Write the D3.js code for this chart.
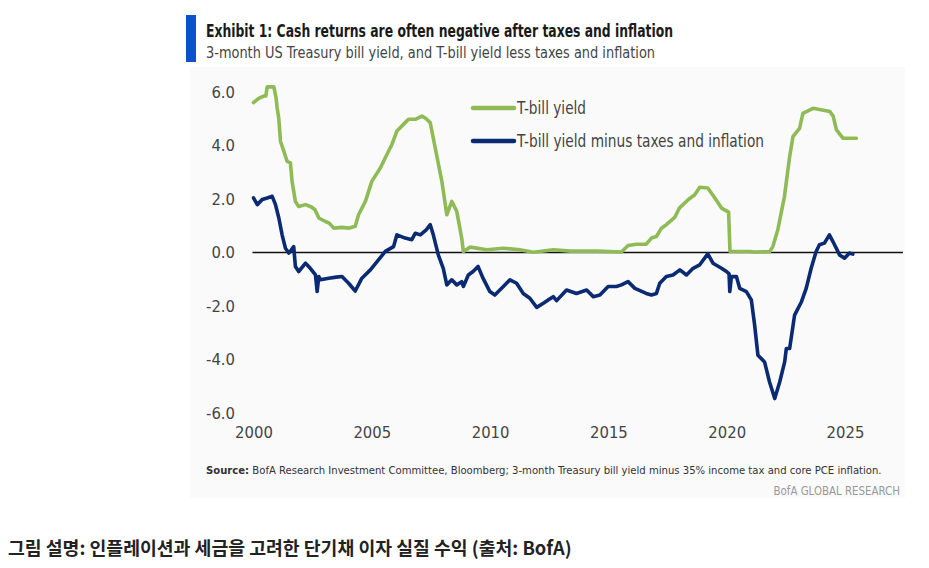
<!DOCTYPE html>
<html>
  <head>
    <meta charset="utf-8">
    <title>Cash returns after taxes and inflation</title>
    <script src="https://d3js.org/d3.v7.min.js"></script>
    <style>
    body { margin:0; background:#fff; }
    svg { display:block; }
    text { font-family: "DejaVu Sans Condensed", "Liberation Sans", sans-serif; }
    .tick text { fill:#444; font-size:16.5px; }
    .caption { font-family: "Noto Sans CJK KR", sans-serif; font-weight:700; }
    </style>
  </head>
  <body>
    <script>

// 3-month T-bill yield (%)
var tbillDates = [2000.0, 2000.22, 2000.43, 2000.52, 2000.58, 2000.86, 2000.95, 2001.0, 2001.07, 2001.14,
  2001.28, 2001.42, 2001.56, 2001.63, 2001.77, 2001.91, 2002.2, 2002.45, 2002.6, 2002.76,
  2003.04, 2003.2, 2003.39, 2003.74, 2004.02, 2004.3, 2004.44, 2004.73, 2005.0, 2005.36,
  2005.57, 2005.85, 2006.06, 2006.34, 2006.55, 2006.84, 2007.12, 2007.3, 2007.47, 2007.68,
  2007.96, 2008.17, 2008.38, 2008.59, 2008.8, 2008.87, 2009.16, 2009.86, 2010.56, 2011.26,
  2011.83, 2012.67, 2013.4, 2014.5, 2015.55, 2015.83, 2016.19, 2016.6, 2016.82, 2017.03,
  2017.24, 2017.45, 2017.8, 2018.0, 2018.38, 2018.65, 2018.86, 2019.2, 2019.5, 2019.78,
  2020.08, 2020.14, 2020.97, 2021.18, 2021.81, 2021.95, 2022.16, 2022.44, 2022.66, 2022.8,
  2023.08, 2023.22, 2023.65, 2024.36, 2024.5, 2024.64, 2024.92, 2025.48];
var tbillValues = [5.6, 5.76, 5.85, 5.85, 6.19, 6.19, 5.8, 5.4, 5.0, 4.16,
  3.79, 3.41, 3.35, 2.66, 1.91, 1.72, 1.79, 1.7, 1.6, 1.29,
  1.16, 1.1, 0.91, 0.94, 0.91, 0.98, 1.41, 1.91, 2.66, 3.16,
  3.54, 4.04, 4.54, 4.79, 4.98, 4.98, 5.1, 5.0, 4.85, 3.91,
  2.66, 1.41, 1.91, 1.54, 0.54, 0.04, 0.2, 0.1, 0.16, 0.1,
  0.01, 0.1, 0.05, 0.05, 0.02, 0.26, 0.31, 0.31, 0.54, 0.6,
  0.91, 1.04, 1.31, 1.66, 1.98, 2.16, 2.44, 2.41, 2.04, 1.66,
  1.51, 0.04, 0.04, 0.02, 0.03, 0.22, 0.85, 2.09, 3.58, 4.33,
  4.64, 5.2, 5.39, 5.27, 5.1, 4.58, 4.27, 4.27];

// T-bill yield minus 35% tax and core PCE inflation (%)
var realDates = [2000.0, 2000.16, 2000.37, 2000.58, 2000.79, 2000.93, 2001.07, 2001.21, 2001.35, 2001.49,
  2001.6, 2001.7, 2001.77, 2001.91, 2002.2, 2002.4, 2002.62, 2002.69, 2002.76, 2002.83,
  2003.18, 2003.5, 2003.74, 2004.02, 2004.3, 2004.58, 2004.94, 2005.29, 2005.57, 2005.92,
  2006.06, 2006.41, 2006.69, 2006.84, 2007.05, 2007.3, 2007.47, 2007.6, 2007.81, 2008.02,
  2008.17, 2008.38, 2008.59, 2008.8, 2008.87, 2009.08, 2009.28, 2009.49, 2009.7, 2009.99,
  2010.2, 2010.56, 2010.84, 2011.12, 2011.4, 2011.68, 2011.97, 2012.25, 2012.5, 2012.67,
  2012.81, 2013.23, 2013.65, 2014.08, 2014.36, 2014.64, 2014.99, 2015.34, 2015.55, 2015.83,
  2016.12, 2016.6, 2016.82, 2017.03, 2017.17, 2017.45, 2017.73, 2018.02, 2018.3, 2018.58,
  2018.86, 2019.2, 2019.42, 2019.78, 2019.99, 2020.1, 2020.13, 2020.2, 2020.41, 2020.55,
  2020.83, 2021.04, 2021.18, 2021.32, 2021.6, 2021.81, 2022.03, 2022.24, 2022.45, 2022.52,
  2022.66, 2022.87, 2023.16, 2023.36, 2023.57, 2023.78, 2023.92, 2024.13, 2024.34, 2024.49,
  2024.77, 2024.98, 2025.19, 2025.33];
var realValues = [2.04, 1.79, 1.98, 2.04, 2.1, 1.79, 1.29, 0.66, 0.16, -0.02,
  0.1, 0.22, -0.52, -0.71, -0.4, -0.59, -0.84, -1.46, -0.9, -1.02,
  -0.96, -0.92, -0.9, -1.15, -1.44, -0.96, -0.65, -0.27, 0.04, 0.22,
  0.66, 0.54, 0.48, 0.72, 0.66, 0.85, 1.04, 0.66, -0.09, -0.59,
  -1.21, -1.02, -1.21, -1.09, -1.27, -0.84, -0.71, -0.52, -0.96, -1.46,
  -1.59, -1.27, -1.02, -1.15, -1.53, -1.71, -2.05, -1.9, -1.75, -1.65,
  -1.8, -1.4, -1.53, -1.4, -1.65, -1.59, -1.27, -1.27, -1.21, -1.09,
  -1.34, -1.53, -1.59, -1.53, -1.15, -0.9, -0.84, -0.65, -0.84, -0.59,
  -0.46, -0.05, -0.4, -0.59, -0.71, -0.8, -1.46, -0.9, -0.9, -1.34,
  -1.46, -1.77, -2.71, -3.84, -4.09, -4.84, -5.46, -4.84, -4.09, -3.59,
  -3.59, -2.34, -1.84, -1.34, -0.59, 0.04, 0.29, 0.35, 0.66, 0.41,
  -0.09, -0.21, -0.02, -0.06];

var yTicks = [-6, -4, -2, 0, 2, 4, 6];
var xTicks = [2000, 2005, 2010, 2015, 2020, 2025];
var seriesNames = ["T-bill yield", "T-bill yield minus taxes and inflation"];
var seriesColors = ["#8fbb57", "#0b2a74"];

var width = 929, height = 568;

var svg = d3.select("body").append("svg")
    .attr("width", width)
    .attr("height", height);

// light panel behind the exhibit
svg.append("rect")
    .attr("x", 190).attr("y", 67)
    .attr("width", 715).attr("height", 431)
    .attr("fill", "#fafafa");

// title block
svg.append("rect")
    .attr("x", 186).attr("y", 15)
    .attr("width", 10).attr("height", 47)
    .attr("fill", "#0a52c9");

// reference font is condensed; squeeze to its measured widths
function fitText(sel, w) {
  return sel.attr("textLength", w).attr("lengthAdjust", "spacingAndGlyphs");
}

fitText(svg.append("text")
    .attr("x", 206).attr("y", 37)
    .style("font-size", "17px").style("font-weight", "bold")
    .attr("fill", "#1a1a1a")
    .text("Exhibit 1: Cash returns are often negative after taxes and inflation"), 467);

fitText(svg.append("text")
    .attr("x", 206).attr("y", 58)
    .style("font-size", "16px")
    .attr("fill", "#444")
    .text("3-month US Treasury bill yield, and T-bill yield less taxes and inflation"), 449);

var x = d3.scaleLinear().domain([2000, 2025]).range([253.5, 845]);
var y = d3.scaleLinear().domain([-6, 6]).range([413, 92]);

svg.append("g")
    .attr("transform", "translate(238,0)")
    .call(d3.axisLeft(y).tickValues(yTicks).tickSize(0).tickPadding(3)
      .tickFormat(function(d){ return d.toFixed(1); }))
    .call(function(g){ g.select(".domain").remove(); });

svg.append("g")
    .attr("transform", "translate(0,423)")
    .call(d3.axisBottom(x).tickValues(xTicks).tickSize(0).tickPadding(3)
      .tickFormat(d3.format("d")))
    .call(function(g){ g.select(".domain").remove(); });

svg.selectAll(".tick text").attr("font-family", null).attr("font-size", null);

// zero line
svg.append("line")
    .attr("x1", x(2000) - 1).attr("x2", x(2027.45))
    .attr("y1", y(0)).attr("y2", y(0))
    .attr("stroke", "#111").attr("stroke-width", 1.5);

var line = d3.line()
    .x(function(d){ return x(d[0]); })
    .y(function(d){ return y(d[1]); });

var tbill = d3.zip(tbillDates, tbillValues);
var real = d3.zip(realDates, realValues);

[tbill, real].forEach(function(data, i){
  svg.append("path")
      .datum(data)
      .attr("d", line)
      .attr("fill", "none")
      .attr("stroke", seriesColors[i])
      .attr("stroke-width", 3.6)
      .attr("stroke-linejoin", "round")
      .attr("stroke-linecap", "round");
});

// legend
var legendWidths = [69, 247];
var legend = svg.append("g").attr("transform", "translate(473,108)");
seriesNames.forEach(function(name, i){
  var g = legend.append("g").attr("transform", "translate(0," + (i * 33) + ")");
  g.append("line")
      .attr("x1", 0).attr("x2", 41)
      .attr("stroke", seriesColors[i]).attr("stroke-width", 4.5)
      .attr("stroke-linecap", "round");
  fitText(g.append("text")
      .attr("x", 44).attr("y", 6)
      .style("font-size", "17px")
      .attr("fill", "#444")
      .text(name), legendWidths[i]);
});

// source
var src = svg.append("text")
    .attr("x", 206).attr("y", 474)
    .style("font-size", "11.2px")
    .attr("fill", "#333");
src.append("tspan").style("font-weight", "bold").text("Source:");
src.append("tspan").text(" BofA Research Investment Committee, Bloomberg; 3-month Treasury bill yield minus 35% income tax and core PCE inflation.");

svg.append("text")
    .attr("x", 900).attr("y", 495)
    .attr("text-anchor", "end")
    .style("font-size", "11.4px")
    .attr("fill", "#999")
    .text("BofA GLOBAL RESEARCH");

svg.append("text")
    .attr("class", "caption")
    .attr("x", 8).attr("y", 555)
    .style("font-size", "18.3px")
    .attr("fill", "#222")
    .text("그림 설명: 인플레이션과 세금을 고려한 단기채 이자 실질 수익 (출처: BofA)");

    </script>
  </body>
</html>
